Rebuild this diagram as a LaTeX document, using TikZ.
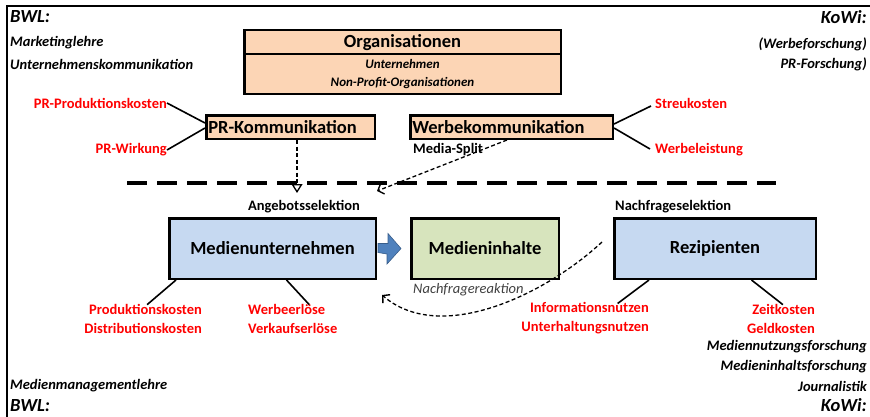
\documentclass[tikz,border=0pt]{standalone}
\usepackage{fontspec}
\setmainfont{Carlito}
\usetikzlibrary{arrows.meta}
\definecolor{peach}{RGB}{252,213,181}
\definecolor{paleblue}{RGB}{198,217,241}
\definecolor{palegreen}{RGB}{215,228,189}
\definecolor{arrowblue}{RGB}{79,129,189}
\definecolor{arrowedge}{RGB}{56,93,138}
\definecolor{notegray}{RGB}{64,64,64}
\begin{document}
\begin{tikzpicture}[x=1pt,y=-1pt,
  box/.style={draw=black, line width=2.5pt, inner sep=0pt},
  titletext/.style={font=\bfseries\fontsize{18.5}{22}\selectfont},
  discipline/.style={font=\bfseries\itshape\fontsize{14.5}{19}\selectfont, inner sep=0pt},
  field/.style={font=\bfseries\itshape\fontsize{18.5}{22}\selectfont, inner sep=0pt},
  cost/.style={text=red, font=\bfseries\fontsize{14.5}{19}\selectfont, inner sep=0pt},
  caption/.style={font=\bfseries\fontsize{14.5}{19}\selectfont, inner sep=0pt},
  costline/.style={line width=1.6pt},
  flow/.style={line width=1.3pt, dash pattern=on 4pt off 2.5pt}]
\useasboundingbox (0,0) rectangle (870,416);
\clip (0,0) rectangle (870,416);
% outer frame
\draw[line width=2.5pt] (7,6) rectangle (900,440);

% research fields
\node[field, anchor=west] (bwltop) at (10,17) {BWL:};
\node[discipline, anchor=west] (mkt) at (10,43) {Marketinglehre};
\node[discipline, anchor=west] (ukom) at (10,64) {Unternehmenskommunikation};
\node[field, anchor=east] (kowitop) at (867,17) {KoWi:};
\node[discipline, anchor=east] (werbef) at (867,44) {(Werbeforschung)};
\node[discipline, anchor=east] (prf) at (867,64) {PR-Forschung)};
\node[discipline, anchor=west] (mml) at (10,386) {Medienmanagementlehre};
\node[field, anchor=west] (bwlbot) at (10,405.5) {BWL:};
\node[discipline, anchor=east] (mnf) at (867,347) {Mediennutzungsforschung};
\node[discipline, anchor=east] (mif) at (867,367) {Medieninhaltsforschung};
\node[discipline, anchor=east] (jour) at (867,386) {Journalistik};
\node[field, anchor=east] (kowibot) at (867,405.5) {KoWi:};

% organisations
\node[box, fill=peach, minimum width=316.5pt, minimum height=23.75pt, titletext] (orgtop) at (402.5,42.1) {Organisationen};
\node[box, fill=peach, minimum width=316.5pt, minimum height=39.75pt, align=center,
      font=\bfseries\itshape\fontsize{13}{18}\selectfont] (orgbot) at (402.5,73.9) {Unternehmen\\Non-Profit-Organisationen};

% communication boxes
\node[box, fill=peach, text width=164.5pt, minimum height=23.5pt, inner xsep=2pt, align=left, titletext] (prk) at (290.5,127) {PR-Kommunikation};
\node[box, fill=peach, text width=198.5pt, minimum height=23.5pt, inner xsep=2pt, align=left, titletext] (wk) at (511.5,127) {Werbekommunikation};

\node[cost, anchor=east] (ppk) at (167,103) {PR-Produktionskosten};
\node[cost, anchor=east] (prw) at (167,150) {PR-Wirkung};
\node[cost, anchor=west] (streu) at (655,103) {Streukosten};
\node[cost, anchor=west] (wl) at (655,150) {Werbeleistung};
\draw[costline] (ppk.east) -- ([yshift=4pt]prk.west);
\draw[costline] (prw.east) -- ([yshift=-1pt]prk.west);
\draw[costline] ([yshift=3pt]wk.east) -- ([xshift=-4pt,yshift=-3pt]streu.west);
\draw[costline] ([yshift=-1pt]wk.east) -- ([xshift=-5pt,yshift=1pt]wl.west);

\node[caption, anchor=west] (msplit) at (413,150) {Media-Split};

% separator between organisations and media market
\coordinate (sepl) at (127,183);
\coordinate (sepr) at (776,183);
\draw[line width=4pt, dash pattern=on 20pt off 10pt] (sepl) -- (sepr);

\coordinate (prtip) at (297,193);
\coordinate (mstip) at (377,191);
\draw[flow, -{Triangle[open, length=9pt, width=11pt, line width=1.3pt, sep=0pt]}] ([xshift=6.5pt]prk.south) -- (prtip);
\draw[flow, -{Straight Barb[length=5pt, width=11pt, line width=1.4pt]}] ([xshift=-4.5pt]wk.south) -- (mstip);

% media market
\node[caption] (angebot) at (304,207) {Angebotsselektion};
\node[caption, anchor=west] (nachfrage) at (615,207) {Nachfrageselektion};

\node[box, fill=paleblue, minimum width=206.5pt, minimum height=60.5pt, titletext] (mu) at (272.5,248.5) {Medienunternehmen};
\node[box, fill=palegreen, minimum width=147.5pt, minimum height=60.5pt, titletext] (mi) at (485,248.5) {Medieninhalte};
\node[box, fill=paleblue, minimum width=201.5pt, minimum height=60.5pt, titletext] (rz) at (715,248.5) {Rezipienten};

% block arrow from supply to content
\draw[fill=arrowblue, draw=arrowedge, line width=0.6pt]
  ([xshift=1pt,yshift=5pt]mu.east) -- ++(10,0) -- ++(0,-10) -- ([xshift=-9pt]mi.west) -- ++(-14,15.5) -- ++(0,-10) -- ([xshift=1pt,yshift=-4pt]mu.east) -- cycle;

\node[font=\itshape\fontsize{14.5}{19}\selectfont, text=notegray, inner sep=0pt, anchor=west] (reakt) at (413,290) {Nachfragereaktion};
\coordinate (reaktip) at (382,295);
\draw[flow, -{Straight Barb[length=5pt, width=11pt, line width=1.4pt]}]
  ([xshift=-11pt,yshift=6.5pt]rz.west) .. controls (545,295) and (440,345) .. (reaktip);

% cost and revenue labels
\node[cost, align=right, anchor=east] (mucost) at (202,318.5) {Produktionskosten\\Distributionskosten};
\node[cost, align=left, anchor=west] (murev) at (248,318.5) {Werbeerlöse\\Verkaufserlöse};
\node[cost, align=right, anchor=east] (rzuse) at (649,318.5) {Informationsnutzen\\Unterhaltungsnutzen};
\node[cost, align=right, anchor=east] (rzcost) at (815,318.5) {Zeitkosten\\Geldkosten};
\draw[costline] ([xshift=8pt]mu.south west) -- ([xshift=4pt,yshift=-1pt]mucost.north);
\draw[costline] ([xshift=118.5pt]mu.south west) -- ([xshift=16.5pt,yshift=-1pt]murev.north);
\draw[costline] ([xshift=36pt]rz.south west) -- ([xshift=32.5pt,yshift=-1pt]rzuse.north);
\draw[costline] ([xshift=138.5pt]rz.south west) -- ([xshift=2pt,yshift=-1pt]rzcost.north);
\end{tikzpicture}
\end{document}
